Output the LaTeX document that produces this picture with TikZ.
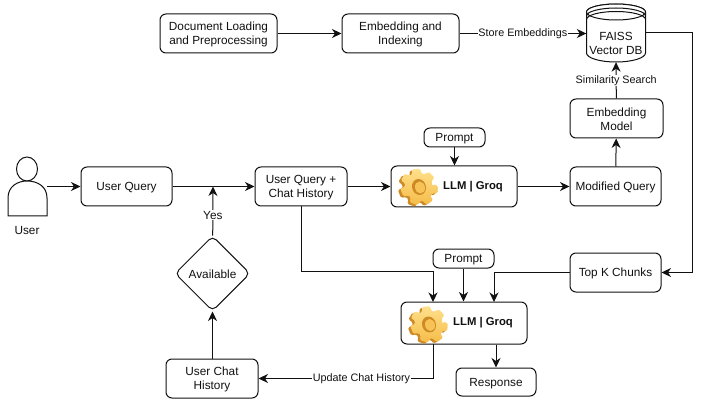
\documentclass[tikz,border=0pt]{standalone}
\usepackage{fontspec}
\setmainfont{Liberation Sans}
\usetikzlibrary{arrows.meta,calc,shapes.geometric}
\definecolor{ink}{HTML}{111111}
\definecolor{gearlight}{HTML}{FFE08C}
\definecolor{gearmid}{HTML}{F5BC48}
\definecolor{geardark}{HTML}{CE8A24}
\newcommand{\tl}{\rule{0pt}{10.5pt}}
\tikzset{
  x=1pt,y=-1pt,
  every node/.style={font=\fontsize{11.8}{14.6}\selectfont,text=ink,align=center,inner sep=0pt},
  box/.style={draw=ink,line width=1pt,rounded corners=6pt,fill=white,anchor=center},
  lab/.style={fill=white,inner sep=0.5pt,font=\fontsize{10.8}{13}\selectfont},
  boldtext/.style={anchor=west,font=\fontsize{11.3}{14}\selectfont\bfseries},
  conn/.style={draw=ink,line width=1pt,-{Stealth[length=9.5pt,width=9pt,inset=3pt]}},
  gearshape/.pic={
    \begin{scope}[xslant=-0.08]
    \fill[geardark,rounded corners=1.5pt] (-2.5,1.5) ++(19,0) \foreach \i in {0,...,6}{
      -- ({-2.5+14*cos(51.43*\i-19+8)},{1.5+14*sin(51.43*\i-19+8)})
      -- ({-2.5+19*cos(51.43*\i-13+8)},{1.5+18.5*sin(51.43*\i-13+8)})
      -- ({-2.5+19*cos(51.43*\i+13+8)},{1.5+18.5*sin(51.43*\i+13+8)})
      -- ({-2.5+14*cos(51.43*\i+19+8)},{1.5+14*sin(51.43*\i+19+8)})} -- cycle;
    \path[top color=gearlight,bottom color=gearmid,rounded corners=1.5pt] (14,0) \foreach \i in {0,...,6}{
      -- ({14*cos(51.43*\i-19+8)},{14*sin(51.43*\i-19+8)})
      -- ({19*cos(51.43*\i-13+8)},{18.5*sin(51.43*\i-13+8)})
      -- ({19*cos(51.43*\i+13+8)},{18.5*sin(51.43*\i+13+8)})
      -- ({14*cos(51.43*\i+19+8)},{14*sin(51.43*\i+19+8)})} -- cycle;
    \fill[geardark] (0,0) circle[x radius=7,y radius=8];
    \fill[gearmid!80!gearlight] (1,0.5) circle[x radius=5,y radius=6];
    \end{scope}
  }
}
\begin{document}
\begin{tikzpicture}
\useasboundingbox (0,0) rectangle (720,406);
\fill[white] (0,0) rectangle (720,406);

% boxes
\node[box,minimum width=117pt,minimum height=39pt] (doc) at (218.5,33.5) {\tl Document Loading\\and Preprocessing};
\node[box,minimum width=117pt,minimum height=39pt] (emb) at (400.5,33.5) {\tl Embedding and\\Indexing};
\node[box,minimum width=93pt,minimum height=39pt] (emodel) at (616.5,118.5) {\tl Embedding\\Model};
\node[box,minimum width=91pt,minimum height=39pt] (mod) at (615.5,186.5) {\tl Modified Query};
\node[box,minimum width=126pt,minimum height=41pt] (llma) at (454,186.5) {};
\node[box,minimum width=61pt,minimum height=19pt] (pa) at (454.5,137.5) {\tl Prompt};
\node[box,minimum width=92pt,minimum height=39pt] (uqh) at (301,186.5) {\tl User Query +\\Chat History};
\node[box,minimum width=91pt,minimum height=39pt] (uq) at (126.5,186.5) {\tl User Query};
\node[box,minimum width=92pt,minimum height=39pt] (hist) at (212,378.5) {\tl User Chat\\History};
\node[box,minimum width=126pt,minimum height=42pt] (llmb) at (464,323) {};
\node[box,minimum width=61pt,minimum height=19pt] (pb) at (463.5,258.5) {\tl Prompt};
\node[box,minimum width=91pt,minimum height=39pt] (topk) at (615.5,272.5) {\tl Top K Chunks};
\node[box,minimum width=80pt,minimum height=28pt] (resp) at (496,382) {\tl Response};
\node[draw=ink,line width=1pt,fill=white,diamond,rounded corners=5pt,minimum width=75pt,minimum height=75pt] (avail) at (212.5,273.5) {\tl Available};

% LLM contents
\pic at (419,187) {gearshape};
\node[boldtext] (ta) at (443,187) {LLM | Groq};
\pic at (429,324.5) {gearshape};
\node[boldtext] (tb) at (453,323) {LLM | Groq};

% FAISS cylinder
\path[draw=ink,line width=1pt,fill=white] (586.5,12) arc[x radius=29.5,y radius=8,start angle=180,end angle=360] -- (645.5,53)
  arc[x radius=29.5,y radius=9,start angle=0,end angle=180] -- cycle;
\path[draw=ink,line width=1pt,fill=white] (586.5,12) arc[x radius=29.5,y radius=8,start angle=180,end angle=-180];
\draw[ink,line width=1pt] (586.5,16) arc[x radius=29.5,y radius=8,start angle=180,end angle=360];
\draw[ink,line width=1pt] (586.5,19.5) arc[x radius=29.5,y radius=8,start angle=180,end angle=360];
\node[minimum width=59pt,minimum height=58pt] (faiss) at (616,33) {};
\node at (616,43.5) {FAISS\\Vector DB};

% user
\draw[ink,line width=1pt,fill=white] (27,169) circle[x radius=10.5,y radius=12];
\draw[ink,line width=1pt,fill=white] (8,216) -- (8,198) .. controls (8,186) and (18,181) .. (27,181) .. controls (37,181) and (47,186) .. (47,198) -- (47,216) -- cycle;
\node[minimum width=39pt,minimum height=59pt] (user) at (27.5,186.5) {};
\node (userlab) at (27,230) {User};

% coordinates
\coordinate (yesjoin) at (213,186.5);
\coordinate (uqhdown) at (301,271);
\coordinate (cornerb) at (433,271);
\coordinate (topin) at (494,272.5);
\coordinate (llmbin) at (494,302);
\coordinate (llmbq) at (433,302);
\coordinate (out) at (433,378.5);
\coordinate (oute) at (433,344);
\coordinate (r1) at (692,33);
\coordinate (r2) at (692,272.5);

% connectors
\draw[conn] (doc) -- (emb);
\draw[conn] (emb) -- (faiss.west |- emb) node[lab,pos=.5] {Store Embeddings};
\draw[conn] (emodel) -- (faiss.south) node[lab,pos=.49] {Similarity Search};
\draw[conn] (mod) -- (emodel);
\draw[conn] (llma) -- (mod);
\draw[conn] (pa) -- (pa |- llma.north);
\draw[conn] (uqh) -- (llma);
\draw[conn] (uq) -- (uqh);
\draw[conn] (user.east) -- (uq);
\draw[conn] (avail) -- (yesjoin) node[lab,pos=.42,font=\fontsize{11.8}{15}\selectfont] {Yes};
\draw[conn] (hist.north -| avail) -- (avail);
\draw[conn] (oute) -- (out) -- (hist.east) node[lab,pos=.41] {Update Chat History};
\draw[conn] (uqh.south) -- (uqhdown) -- (cornerb) -- (llmbq);
\draw[conn] (pb) -- (pb |- llmb.north);
\draw[conn] (topk) -- (topin) -- (llmbin);
\draw[conn] (faiss.east |- r1) -- (r1) -- (r2) -- (topk);
\draw[conn] (resp.north |- llmb.south) -- (resp);
\end{tikzpicture}
\end{document}
